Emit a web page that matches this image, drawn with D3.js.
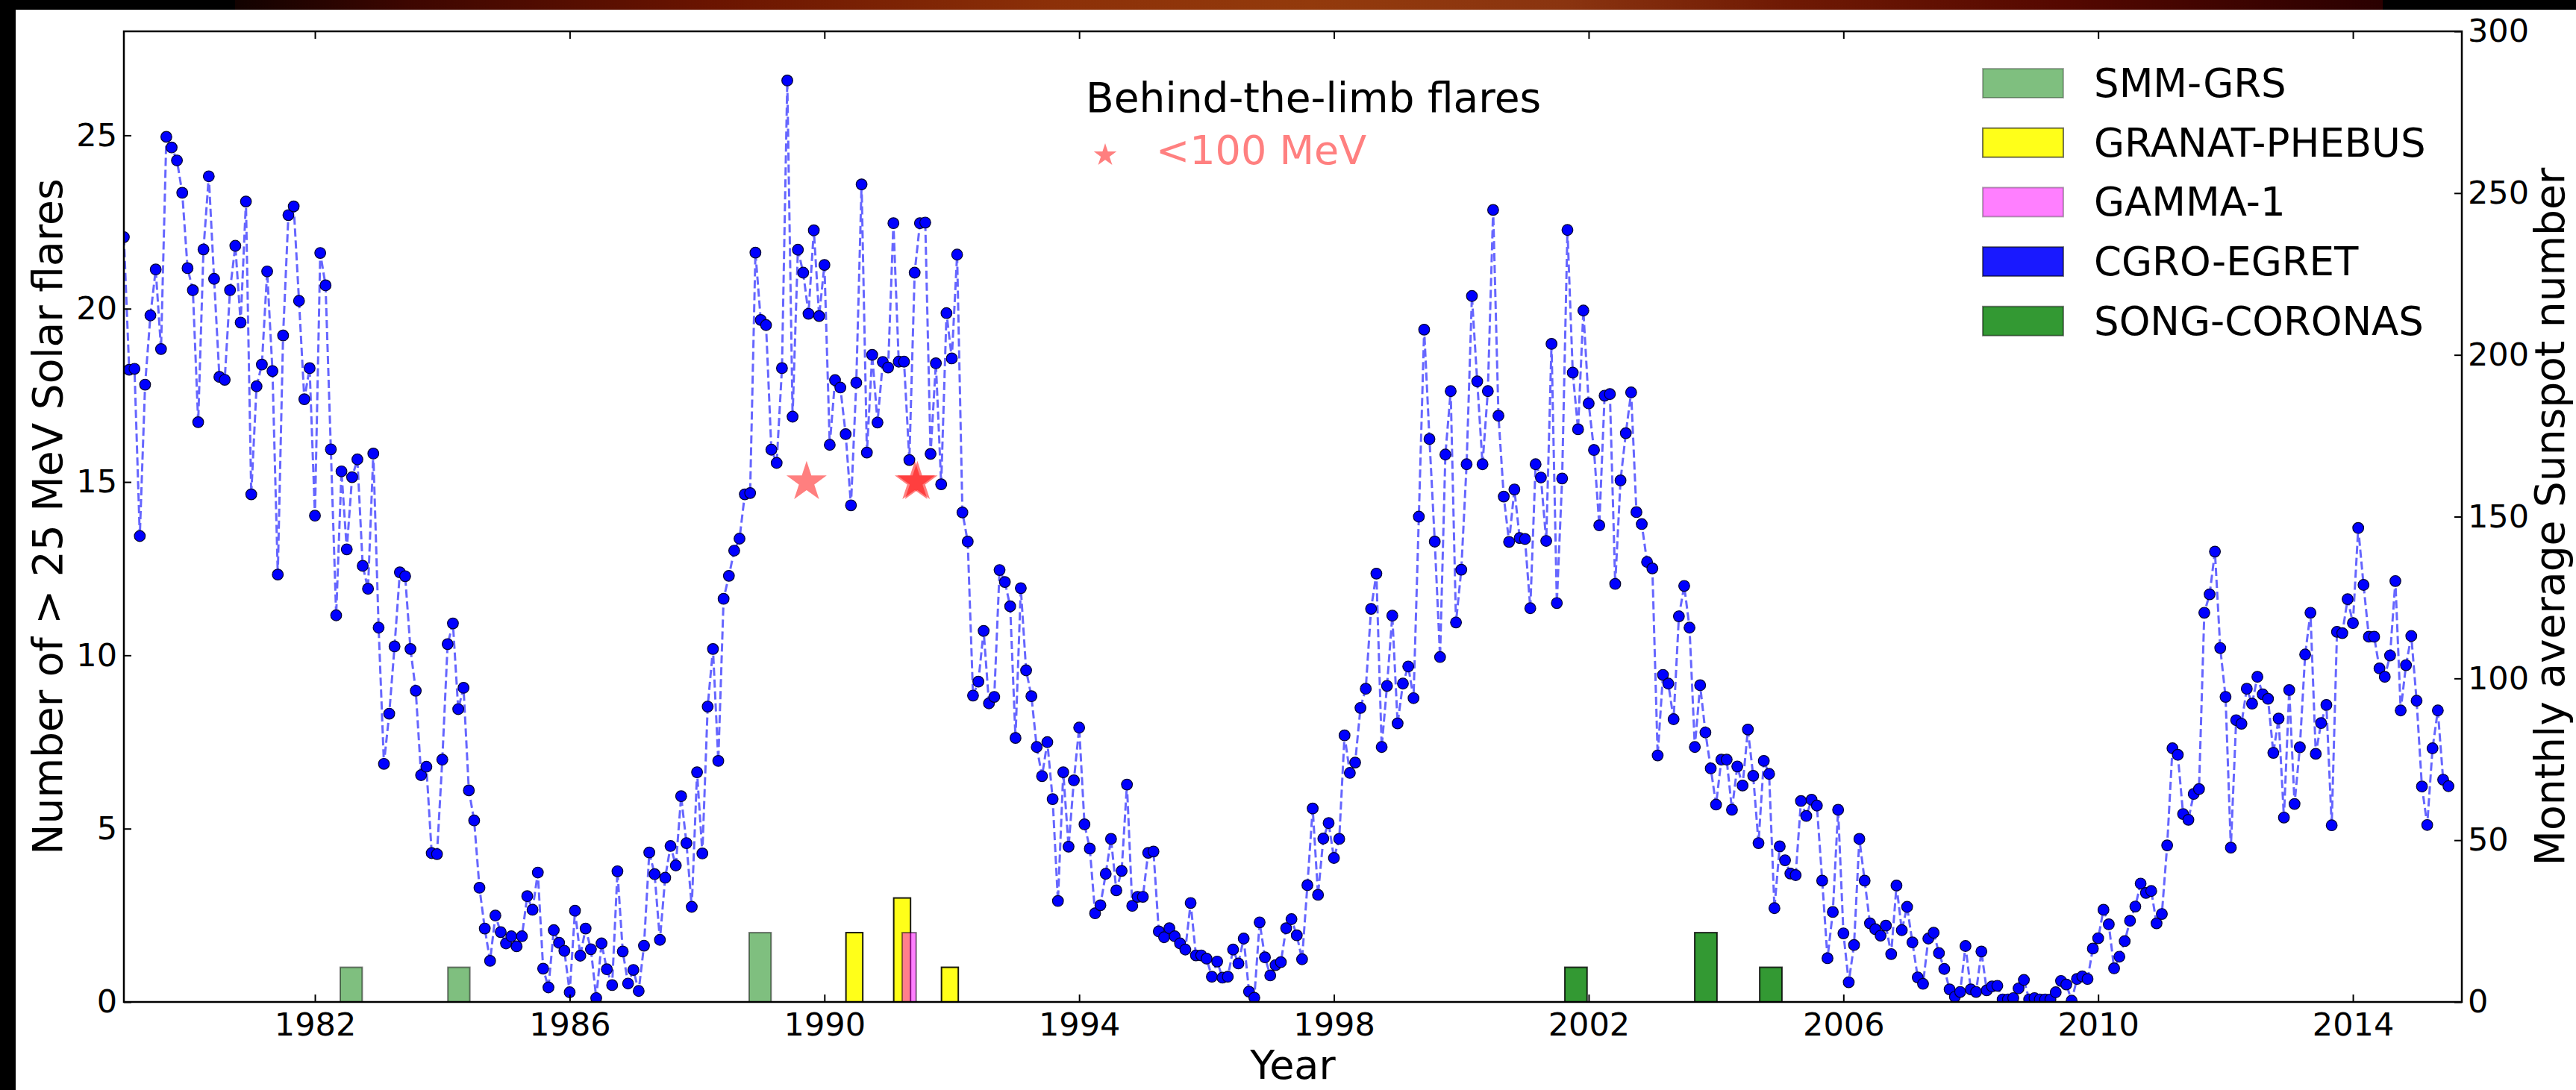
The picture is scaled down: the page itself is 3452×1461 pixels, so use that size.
<!DOCTYPE html>
<html>
<head>
<meta charset="utf-8">
<script src="https://cdn.jsdelivr.net/npm/d3@7"></script>
<style>
  html, body { margin: 0; padding: 0; background: #fff; }
  svg { display: block; }
</style>
</head>
<body>
<svg id="chart" width="3452" height="1461"></svg>
<script>
// ---- data -------------------------------------------------------------
// Monthly average sunspot number, one value per month starting January 1979.
const sunspotStart = 1979;
const sunspotMonthly = [
  236.4, 195.4, 195.7, 144.0, 190.8, 212.2, 226.4, 201.8, 267.4, 264.1,
  260.1, 250.1, 226.8, 220.0, 179.2, 232.6, 255.2, 223.5, 193.2, 192.3,
  220.0, 233.7, 210.0, 247.4, 156.9, 190.3, 197.0, 225.8, 195.0, 132.1,
  206.0, 243.2, 245.9, 216.7, 186.3, 195.9, 150.3, 231.5, 221.5, 170.8,
  119.5, 164.0, 139.9, 162.2, 167.7, 134.8, 127.7, 169.5, 115.7, 73.6,
  89.1, 109.9, 132.8, 131.6, 109.1, 96.2, 70.1, 72.7, 46.0, 45.7,
  74.9, 110.6, 117.0, 90.5, 97.1, 65.4, 56.1, 35.3, 22.7, 12.7,
  26.7, 21.6, 18.1, 20.3, 17.2, 20.3, 32.7, 28.5, 40.0, 10.3,
  4.5, 22.2, 18.3, 15.8, 3.0, 28.2, 14.3, 22.7, 16.3, 1.2,
  18.1, 10.1, 5.2, 40.4, 15.6, 5.7, 9.9, 3.4, 17.4, 46.2,
  39.5, 19.2, 38.4, 48.2, 42.2, 63.6, 49.1, 29.4, 71.0, 45.9,
  91.3,
  109.1, 74.5, 124.6, 131.7, 139.5, 143.2, 156.9, 157.3, 231.6, 210.8,
  209.2, 170.7, 166.6, 195.9, 284.8, 180.9, 232.5, 225.4, 212.7, 238.5,
  212.0, 227.8, 172.2, 192.2, 189.9, 175.5, 153.5, 191.4, 252.7, 169.8,
  200.0, 179.1, 197.8, 196.1, 240.7, 197.9, 197.9, 167.5, 225.4, 240.7,
  240.9, 169.4, 197.4, 160.0, 212.9, 198.9, 231.0, 151.3, 142.3, 94.7,
  99.0, 114.7, 92.3, 94.3, 133.5, 129.8, 122.3, 81.6, 127.9, 102.5,
  94.5, 78.8, 69.8, 80.3, 62.7, 31.2, 71.0, 48.0, 68.5, 84.8,
  54.9, 47.4, 27.4, 29.9, 39.6, 50.4, 34.5, 40.5, 67.2, 29.7,
  32.5, 32.5, 46.1, 46.5, 21.8, 20.0, 22.8, 20.3, 18.1, 16.2,
  30.6, 14.4, 14.4, 13.4, 7.8, 12.5, 7.5, 7.8, 16.2, 11.9,
  19.6, 3.2, 1.3, 24.6, 13.8,
  8.2, 11.4, 12.3, 22.8, 25.6, 20.6, 13.2, 36.1, 59.8, 33.1,
  50.5, 55.3, 44.5, 50.4, 82.4, 70.8, 74.0, 90.9, 96.8, 121.5,
  132.4, 78.8, 97.7, 119.4, 86.1, 98.4, 103.7, 93.9, 150.0, 207.8,
  174.0, 142.3, 106.6, 169.2, 188.8, 117.3, 133.6, 166.2, 218.2, 191.8,
  166.2, 188.8, 244.8, 181.2, 156.2, 142.2, 158.4, 143.4, 143.1, 121.7,
  166.2, 162.1, 142.5, 203.4, 123.3, 161.8, 238.6, 194.5, 177.0, 213.7,
  185.0, 170.6, 147.3, 187.4, 187.9, 129.2, 161.2, 175.8, 188.4, 151.4,
  147.7, 136.0, 134.0, 76.2, 101.1, 98.4, 87.4, 119.2, 128.6, 115.7,
  78.8, 97.9, 83.3, 72.2, 61.0, 74.9, 74.9, 59.4, 72.8, 66.9,
  84.2, 69.9, 49.1, 74.5, 70.5, 29.0, 48.1, 43.8, 39.7, 39.2,
  62.1, 57.5, 62.5, 60.7, 37.5, 13.5, 27.8, 59.4, 21.2, 6.1,
  17.6, 50.4, 37.5,
  24.3, 22.5, 20.5, 23.6, 14.8, 36.0, 22.2, 29.4, 18.4, 7.6,
  5.6, 19.6, 21.4, 15.1, 10.2, 3.9, 1.6, 3.1, 17.3, 3.9,
  3.1, 15.6, 3.6, 4.8, 5.0, 0.8, 0.8, 1.2, 4.2, 6.8,
  0.8, 1.2, 0.8, 0.8, 0.8, 3.0, 6.5, 5.4, 0.4, 7.1,
  7.9, 7.1, 16.5, 19.7, 28.5, 24.0, 10.4, 14.0, 18.8, 25.1,
  29.5, 36.6, 33.7, 34.3, 24.3, 27.2, 48.4, 78.4, 76.4, 58.1,
  56.3, 64.3, 65.8, 120.3, 126.0, 139.2, 109.4, 94.3, 47.7, 87.1,
  86.0, 96.8, 92.2, 100.5, 95.1, 93.7, 77.0, 87.6, 57.0, 96.4,
  61.2, 78.7, 107.4, 120.3, 76.7, 86.2, 91.8, 54.6, 114.4, 114.0,
  124.5, 117.1, 146.5, 128.9, 112.9, 112.9, 103.1, 100.5, 107.1, 130.1,
  90.1, 104.1, 113.1, 93.1, 66.6, 54.7, 78.4, 90.1, 68.7, 66.7
];

// Number of > 25 MeV flares seen by each instrument (bin centre year, count).
const instruments = ["SMM-GRS", "GRANAT-PHEBUS", "GAMMA-1", "CGRO-EGRET", "SONG-CORONAS"];
const smmYears = [1982.57, 1984.26, 1988.99];
const smmCounts = [1, 1, 2];
const granatYears = [1990.47, 1991.22, 1991.97];
const granatCounts = [2, 3, 1];
const gammaYears = [1991.33];
const gammaCounts = [2];
const egretYears = [];
const egretCounts = [];
const songYears = [2001.80, 2002.82, 2003.84, 2004.86];
const songCounts = [1, 0, 2, 1];

// Behind-the-limb flares (< 100 MeV)
const btlYears = [1989.72, 1991.42, 1991.46];
const btlCounts = [15, 15, 15];

// Axis ticks
const yearTicks = [1982, 1986, 1990, 1994, 1998, 2002, 2006, 2010, 2014];
const flareTicks = [0, 5, 10, 15, 20, 25];
const sunspotTicks = [0, 50, 100, 150, 200, 250, 300];

// ---- layout / style ----------------------------------------------------
const W = 3452, H = 1461;
const plot = { left: 166, right: 3299, top: 42, bottom: 1343 };
const FONT = "'DejaVu Sans', 'Liberation Sans', sans-serif";

const barStyle = {
  "SMM-GRS":       { color: "#008000", alpha: 0.5, width: 0.345 },
  "GRANAT-PHEBUS": { color: "#ffff00", alpha: 0.9, width: 0.264 },
  "GAMMA-1":       { color: "#ff00ff", alpha: 0.5, width: 0.22 },
  "CGRO-EGRET":    { color: "#0000ff", alpha: 0.9, width: 0.3 },
  "SONG-CORONAS":  { color: "#008000", alpha: 0.8, width: 0.35 }
};
const barSeries = {
  "SMM-GRS": [smmYears, smmCounts],
  "GRANAT-PHEBUS": [granatYears, granatCounts],
  "GAMMA-1": [gammaYears, gammaCounts],
  "CGRO-EGRET": [egretYears, egretCounts],
  "SONG-CORONAS": [songYears, songCounts]
};

const svg = d3.select("#chart");

// page background with dark border and banner strip
const defs = svg.append("defs");
const grad = defs.append("linearGradient").attr("id", "banner").attr("x1", "0%").attr("x2", "100%");
[[0, "#120200"], [0.08, "#3d0600"], [0.22, "#6a1400"], [0.38, "#8c3008"], [0.5, "#933a0c"],
 [0.62, "#8a3410"], [0.72, "#701a04"], [0.85, "#550800"], [1, "#2a0000"]]
  .forEach(([o, c]) => grad.append("stop").attr("offset", o).attr("stop-color", c));

svg.append("rect").attr("width", W).attr("height", H).attr("fill", "#fff");
svg.append("rect").attr("x", 0).attr("y", 0).attr("width", W).attr("height", 13).attr("fill", "#000");
svg.append("rect").attr("x", 0).attr("y", 0).attr("width", 21).attr("height", H).attr("fill", "#000");
svg.append("rect").attr("x", 315).attr("y", 0).attr("width", 2878).attr("height", 13).attr("fill", "url(#banner)");

defs.append("clipPath").attr("id", "plotClip")
  .append("rect").attr("x", plot.left).attr("y", plot.top)
  .attr("width", plot.right - plot.left).attr("height", plot.bottom - plot.top);

// ---- scales ------------------------------------------------------------
const x = d3.scaleLinear().domain([1979, 2015.71]).range([plot.left, plot.right]);
const yFlare = d3.scaleLinear().domain([0, 28]).range([plot.bottom, plot.top]);
const ySpot = d3.scaleLinear().domain([0, 300]).range([plot.bottom, plot.top]);

const plotArea = svg.append("g").attr("clip-path", "url(#plotClip)");

// ---- flare count bars --------------------------------------------------
instruments.forEach(name => {
  const [yrs, cnts] = barSeries[name];
  const st = barStyle[name];
  const rows = yrs.map((yv, i) => ({ year: yv, count: cnts[i] }));
  plotArea.append("g").selectAll("rect").data(rows).join("rect")
    .attr("x", d => x(d.year - st.width / 2))
    .attr("width", d => x(d.year + st.width / 2) - x(d.year - st.width / 2))
    .attr("y", d => yFlare(d.count))
    .attr("height", d => yFlare(0) - yFlare(d.count))
    .attr("fill", st.color).attr("fill-opacity", st.alpha)
    .attr("stroke", "#000").attr("stroke-opacity", st.alpha).attr("stroke-width", 2);
});

// ---- sunspot series ----------------------------------------------------
const spots = sunspotMonthly.map((v, i) => ({ t: sunspotStart + i / 12, v }));
const line = d3.line().x(d => x(d.t)).y(d => ySpot(d.v));
plotArea.append("path").datum(spots)
  .attr("d", line).attr("fill", "none")
  .attr("stroke", "#0000ff").attr("stroke-opacity", 0.6)
  .attr("stroke-width", 3).attr("stroke-dasharray", "11,5");
plotArea.append("g").selectAll("circle").data(spots).join("circle")
  .attr("cx", d => x(d.t)).attr("cy", d => ySpot(d.v)).attr("r", 7.3)
  .attr("fill", "#0000ff").attr("stroke", "#000030").attr("stroke-width", 1.2);

// ---- behind-the-limb stars ---------------------------------------------
const starBig = d3.symbol().type(d3.symbolStar).size(905);
plotArea.append("g").selectAll("path").data(btlYears.map((yv, i) => ({ year: yv, n: btlCounts[i] })))
  .join("path")
  .attr("d", starBig)
  .attr("transform", d => `translate(${x(d.year)},${yFlare(d.n)})`)
  .attr("fill", "#ff0000").attr("fill-opacity", 0.5);

// ---- axes --------------------------------------------------------------
function styleAxis(g) {
  g.select(".domain").remove();
  g.attr("font-family", FONT).attr("font-size", 43);
  g.selectAll(".tick line").attr("stroke", "#000").attr("stroke-width", 2);
  g.selectAll(".tick text").attr("fill", "#000");
}
svg.append("g").attr("transform", `translate(0,${plot.bottom})`)
  .call(d3.axisBottom(x).tickValues(yearTicks).tickFormat(d3.format("d"))
    .tickSizeInner(-10).tickSizeOuter(0).tickPadding(14))
  .call(styleAxis);
svg.append("g").attr("transform", `translate(0,${plot.top})`)
  .call(d3.axisTop(x).tickValues(yearTicks).tickFormat("")
    .tickSizeInner(-10).tickSizeOuter(0))
  .call(styleAxis);
svg.append("g").attr("transform", `translate(${plot.left},0)`)
  .call(d3.axisLeft(yFlare).tickValues(flareTicks).tickFormat(d3.format("d"))
    .tickSizeInner(-10).tickSizeOuter(0).tickPadding(9))
  .call(styleAxis);
svg.append("g").attr("transform", `translate(${plot.right},0)`)
  .call(d3.axisRight(ySpot).tickValues(sunspotTicks).tickFormat(d3.format("d"))
    .tickSizeInner(-10).tickSizeOuter(0).tickPadding(8))
  .call(styleAxis);

// frame
svg.append("rect").attr("x", plot.left).attr("y", plot.top)
  .attr("width", plot.right - plot.left).attr("height", plot.bottom - plot.top)
  .attr("fill", "none").attr("stroke", "#000").attr("stroke-width", 2.5);

// axis titles
const midY = (plot.top + plot.bottom) / 2;
svg.append("text").attr("x", (plot.left + plot.right) / 2).attr("y", 1446)
  .attr("text-anchor", "middle").attr("font-family", FONT).attr("font-size", 54)
  .text("Year");
svg.append("text").attr("transform", `translate(83,${midY}) rotate(-90)`)
  .attr("text-anchor", "middle").attr("font-family", FONT).attr("font-size", 55)
  .text("Number of > 25 MeV Solar flares");
svg.append("text").attr("transform", `translate(3436,${midY}) rotate(-90)`)
  .attr("text-anchor", "middle").attr("font-family", FONT).attr("font-size", 55)
  .text("Monthly average Sunspot number");

// ---- behind-the-limb note ----------------------------------------------
svg.append("text").attr("x", 1455).attr("y", 150)
  .attr("font-family", FONT).attr("font-size", 55).attr("fill", "#000")
  .text("Behind-the-limb flares");
svg.append("path").attr("d", d3.symbol().type(d3.symbolStar).size(290))
  .attr("transform", "translate(1481,208)")
  .attr("fill", "#ff0000").attr("fill-opacity", 0.5);
svg.append("text").attr("x", 1549).attr("y", 220)
  .attr("font-family", FONT).attr("font-size", 54).attr("fill", "#ff8080")
  .text("<100 MeV");

// ---- instrument legend -------------------------------------------------
const legend = svg.append("g").selectAll("g").data(instruments).join("g")
  .attr("transform", (d, i) => `translate(2657,${92 + i * 79.7})`);
legend.append("rect").attr("width", 108).attr("height", 39)
  .attr("fill", d => barStyle[d].color).attr("fill-opacity", d => barStyle[d].alpha)
  .attr("stroke", "#000").attr("stroke-opacity", d => barStyle[d].alpha * 0.6).attr("stroke-width", 2);
legend.append("text").attr("x", 149).attr("y", 38)
  .attr("font-family", FONT).attr("font-size", 53).attr("fill", "#000")
  .text(d => d);
</script>
</body>
</html>
